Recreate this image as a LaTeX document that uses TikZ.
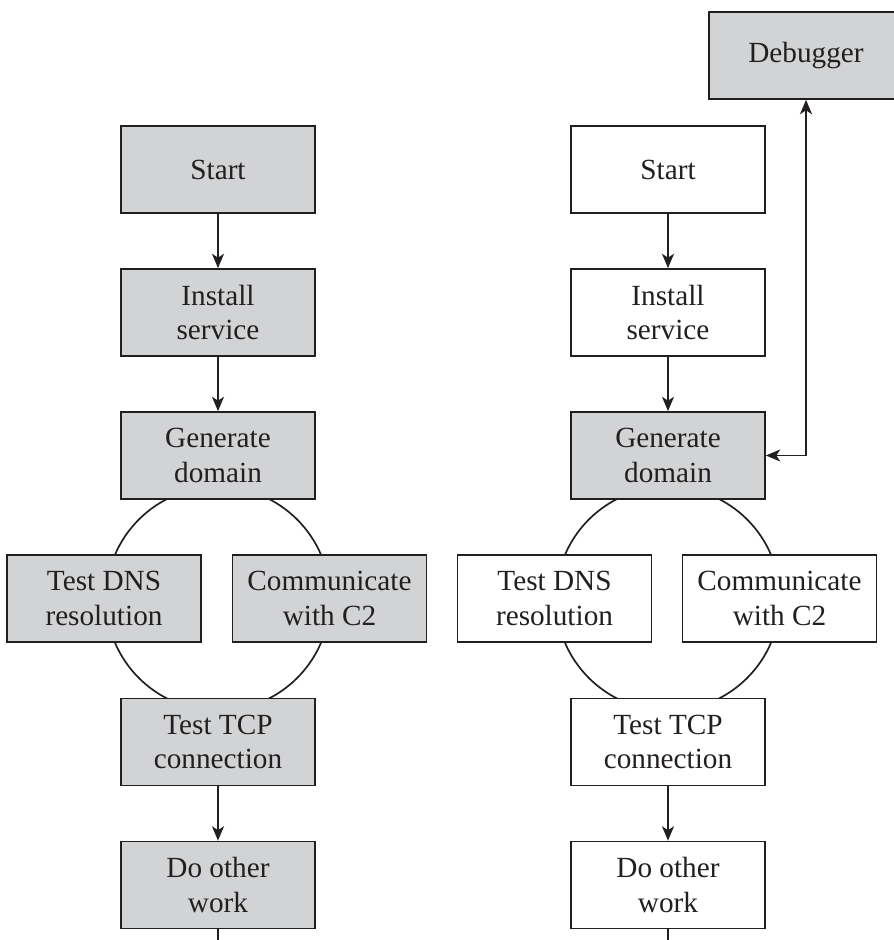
\documentclass[tikz,border=0pt]{standalone}
\usepackage{fontspec}
\setmainfont{Liberation Serif}
\usepackage{tikz}
\usetikzlibrary{arrows.meta}
\usetikzlibrary{calc,backgrounds}

\definecolor{boxgrey}{RGB}{209,211,212}
\definecolor{ink}{RGB}{35,31,32}

\begin{document}
\begin{tikzpicture}[font=\fontsize{20.8}{24.5}\selectfont,
    >={Stealth[length=0.36cm, width=0.3cm, inset=0.1cm]},
    box/.style={draw=ink, line width=1.2pt, fill=white, text=ink, align=center,
      minimum width=4.85cm, minimum height=2.175cm, inner sep=0pt},
    greybox/.style={box, fill=boxgrey},
    flow/.style={draw=ink, line width=1.2pt}]
    % frame
    \useasboundingbox (0,0) rectangle (22.35,23.5);
    \clip (0,0) rectangle (22.35,23.5);

    % left column, all steps shaded
    \node[greybox] (lstart) at (5.45,19.2625) {Start};
    \node[greybox] (linstall) at (5.45,15.6875) {Install\\service};
    \node[greybox] (lgen) at (5.45,12.1125) {Generate\\domain};
    \node[greybox] (ldns) at (2.6,8.5375) {Test DNS\\resolution};
    \node[greybox] (lcomm) at (8.2375,8.5375) {Communicate\\with C2};
    \node[greybox] (ltcp) at (5.45,4.95) {Test TCP\\connection};
    \node[greybox] (lwork) at (5.45,1.375) {Do other\\work};
    \coordinate (lend) at (5.45,-0.5);

    \draw[flow, ->] (lstart) -- (linstall);
    \draw[flow, ->] (linstall) -- (lgen);
    \draw[flow, ->] (ltcp) -- (lwork);
    \draw[flow] (lwork) -- (lend);

    % right column, only the domain step shaded
    \node[box] (rstart) at (16.7,19.2625) {Start};
    \node[box] (rinstall) at (16.7,15.6875) {Install\\service};
    \node[greybox] (rgen) at (16.7,12.1125) {Generate\\domain};
    \node[box] (rdns) at (13.8625,8.5375) {Test DNS\\resolution};
    \node[box] (rcomm) at (19.4875,8.5375) {Communicate\\with C2};
    \node[box] (rtcp) at (16.7,4.95) {Test TCP\\connection};
    \node[box] (rwork) at (16.7,1.375) {Do other\\work};
    \coordinate (rend) at (16.7,-0.5);

    \draw[flow, ->] (rstart) -- (rinstall);
    \draw[flow, ->] (rinstall) -- (rgen);
    \draw[flow, ->] (rtcp) -- (rwork);
    \draw[flow] (rwork) -- (rend);

    % debugger hooked to the domain step
    \node[greybox] (dbg) at (20.15,22.1125) {Debugger};
    \draw[flow, <->] (dbg) |- (rgen);

    % loops behind the boxes
    \begin{scope}[on background layer]
      \draw[flow] ($(lgen)!0.5!(ltcp)$) circle (2.8);
      \draw[flow] ($(rgen)!0.5!(rtcp)$) circle (2.8);
    \end{scope}
  \end{tikzpicture}
\end{document}
